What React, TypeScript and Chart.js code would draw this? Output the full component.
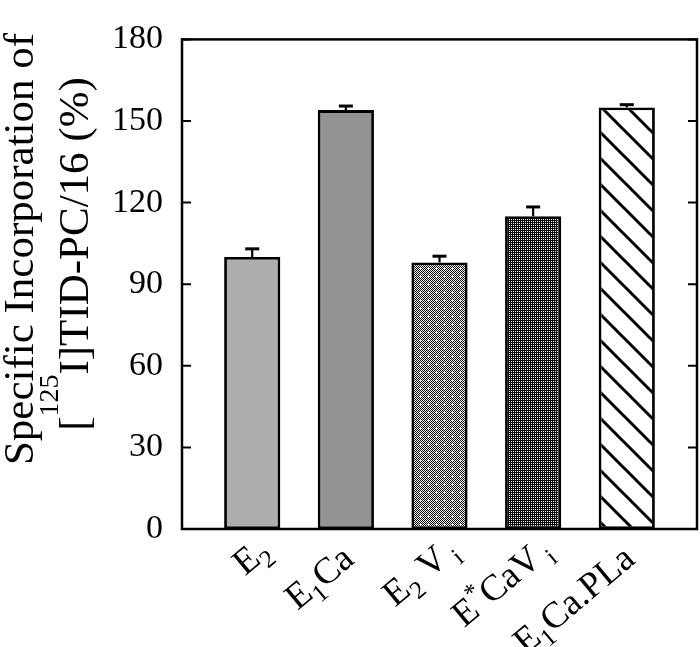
import React, { useEffect, useRef } from 'react';
import { Chart, registerables } from 'chart.js';

Chart.register(...registerables);

type Seg = [string, 'n' | 'sub' | 'sup'];

// ---- data ----
const categories = ['E2', 'E1Ca', 'E2Vi', 'E*CaVi', 'E1Ca.PLa'];
const values = [100, 154, 98, 115, 155];
const errors = [3, 1.5, 2.3, 3.4, 1];
const yTicks = [0, 30, 60, 90, 120, 150, 180];
const tickLabelSegments: Seg[][] = [
  [['E', 'n'], ['2', 'sub']],
  [['E', 'n'], ['1', 'sub'], ['Ca', 'n']],
  [['E', 'n'], ['2', 'sub'], [' V', 'n'], [' i', 'sub']],
  [['E', 'n'], ['*', 'sup'], ['CaV', 'n'], [' i', 'sub']],
  [['E', 'n'], ['1', 'sub'], ['Ca.PLa', 'n']],
];
const yTitleLine1: Seg[] = [['Specific Incorporation of', 'n']];
const yTitleLine2: Seg[] = [['[', 'n'], ['125', 'sup'], ['I]TID-PC/16 (%)', 'n']];

const FONT = '"Liberation Serif", "Times New Roman", serif';

function drawSegs(
  ctx: CanvasRenderingContext2D,
  segs: Seg[],
  size: number,
  subSize: number,
  subDy: number,
  supDy: number,
  align: 'right' | 'center'
) {
  const parts = segs.map(([t, k]) => {
    const s = k === 'n' ? size : subSize;
    ctx.font = `${s}px ${FONT}`;
    return { t, k, s, w: ctx.measureText(t).width };
  });
  let total = parts.reduce((a, p) => a + p.w, 0);
  if (align === 'right') {
    // align on the end of the main text, letting trailing subscripts overhang
    let j = parts.length - 1;
    while (j > 0 && parts[j].k !== 'n') {
      total -= parts[j].w;
      j--;
    }
  }
  let x = align === 'right' ? -total : -total / 2;
  ctx.textAlign = 'left';
  ctx.textBaseline = 'alphabetic';
  ctx.fillStyle = '#000';
  for (const p of parts) {
    ctx.font = `${p.s}px ${FONT}`;
    const dy = p.k === 'sub' ? subDy : p.k === 'sup' ? supDy : 0;
    ctx.fillText(p.t, x, dy);
    x += p.w;
  }
}

function makeTile(w: number, h: number, fn: (x: number, y: number) => boolean) {
  const c = document.createElement('canvas');
  c.width = w;
  c.height = h;
  const g = c.getContext('2d')!;
  const img = g.createImageData(w, h);
  for (let y = 0; y < h; y++) {
    for (let x = 0; x < w; x++) {
      const white = fn(x, y);
      const i = (y * w + x) * 4;
      const v = white ? 245 : 10;
      img.data[i] = v;
      img.data[i + 1] = v;
      img.data[i + 2] = v;
      img.data[i + 3] = 255;
    }
  }
  g.putImageData(img, 0, 0);
  return g.createPattern(c, 'repeat')!;
}

function makeHatch() {
  const s = 26;
  const c = document.createElement('canvas');
  c.width = s;
  c.height = s;
  const g = c.getContext('2d')!;
  g.fillStyle = '#fff';
  g.fillRect(0, 0, s, s);
  g.strokeStyle = '#000';
  g.lineWidth = 3;
  g.beginPath();
  for (let k = -1; k <= 1; k++) {
    g.moveTo(k * s - 2, -2);
    g.lineTo(k * s + s + 2, s + 2);
  }
  g.stroke();
  return g.createPattern(c, 'repeat')!;
}

const customPlugin = {
  id: 'customDraw',
  afterDatasetsDraw(chart: any) {
    const { ctx, chartArea: a } = chart;
    const x = chart.scales.x;
    const y = chart.scales.y;
    ctx.save();
    ctx.strokeStyle = '#000';
    ctx.lineCap = 'butt';
    // error bars
    values.forEach((v, i) => {
      const px = x.getPixelForValue(i + 1);
      const y0 = y.getPixelForValue(v);
      const y1 = y.getPixelForValue(v + errors[i]);
      ctx.lineWidth = 2.2;
      ctx.beginPath();
      ctx.moveTo(px, y0);
      ctx.lineTo(px, y1);
      ctx.stroke();
      ctx.lineWidth = 3;
      ctx.beginPath();
      ctx.moveTo(px - 7, y1);
      ctx.lineTo(px + 7, y1);
      ctx.stroke();
    });
    // frame
    ctx.lineWidth = 2.5;
    ctx.strokeRect(a.left, a.top, a.right - a.left, a.bottom - a.top);
    // inward ticks
    ctx.lineWidth = 2;
    yTicks.forEach((t) => {
      const py = y.getPixelForValue(t);
      ctx.beginPath();
      ctx.moveTo(a.left, py);
      ctx.lineTo(a.left + 9, py);
      ctx.moveTo(a.right - 9, py);
      ctx.lineTo(a.right, py);
      ctx.stroke();
    });
    // x labels
    tickLabelSegments.forEach((segs, i) => {
      const px = x.getPixelForValue(i + 1);
      ctx.save();
      ctx.translate(px + 10, a.bottom + 33);
      ctx.rotate((-40 * Math.PI) / 180);
      drawSegs(ctx, segs, 37, 25, 9, -15, 'right');
      ctx.restore();
    });
    // y title
    ctx.save();
    ctx.translate(33, 249);
    ctx.rotate(-Math.PI / 2);
    drawSegs(ctx, yTitleLine1, 43, 28, 10, -30, 'center');
    ctx.restore();
    ctx.save();
    ctx.translate(88, 254);
    ctx.rotate(-Math.PI / 2);
    drawSegs(ctx, yTitleLine2, 43, 28, 10, -30, 'center');
    ctx.restore();
    ctx.restore();
  },
};

export default function App() {
  const ref = useRef<HTMLCanvasElement>(null);
  useEffect(() => {
    const canvas = ref.current!;
    const dotted = makeTile(8, 8, (x, y) => {
      const plus =
        (x === 4 && y >= 3 && y <= 5) || (y === 4 && x >= 3 && x <= 5);
      return plus || (x + y) % 2 === 1;
    });
    const dark = makeTile(4, 4, (x, y) => (x === 1 && y === 1) || (x === 3 && y === 3) || (x === 1 && y === 3) || (x === 3 && y === 1) || (x === 2 && y === 2 && false));
    const hatch = makeHatch();
    const fills: any[] = ['#adadad', '#939393', dotted, dark, hatch];
    const chart = new Chart(canvas, {
      type: 'bar',
      data: {
        labels: categories,
        datasets: [
          {
            data: values.map((v, i) => ({ x: i + 1, y: v })) as any,
            backgroundColor: fills,
            borderColor: '#000',
            borderWidth: 2.8,
            borderSkipped: false,
            categoryPercentage: 1,
            barPercentage: 0.6,
          },
        ],
      },
      options: {
        responsive: false,
        animation: false,
        events: [],
        layout: { padding: { top: 13, right: 3, left: 0, bottom: 0 } },
        plugins: {
          legend: { display: false },
          tooltip: { enabled: false },
          title: { display: false },
        },
        scales: {
          x: {
            type: 'linear',
            min: 0.25,
            max: 5.75,
            offset: false,
            grid: { display: false, drawTicks: false },
            border: { display: false },
            ticks: { display: false, stepSize: 1, includeBounds: false },
            afterFit: (s: any) => {
              s.height = 118;
            },
          },
          y: {
            min: 0,
            max: 180,
            grid: { display: false, drawTicks: false },
            border: { display: false },
            ticks: {
              stepSize: 30,
              padding: 19,
              color: '#000',
              font: { family: FONT, size: 34 },
            },
            afterFit: (s: any) => {
              s.width = 182;
            },
          },
        },
      },
      plugins: [customPlugin],
    });
    return () => chart.destroy();
  }, []);
  return (
    <div style={{ position: 'absolute', left: 0, top: 0, width: 700, height: 647, background: '#fff' }}>
      <canvas ref={ref} width={700} height={647} />
    </div>
  );
}
